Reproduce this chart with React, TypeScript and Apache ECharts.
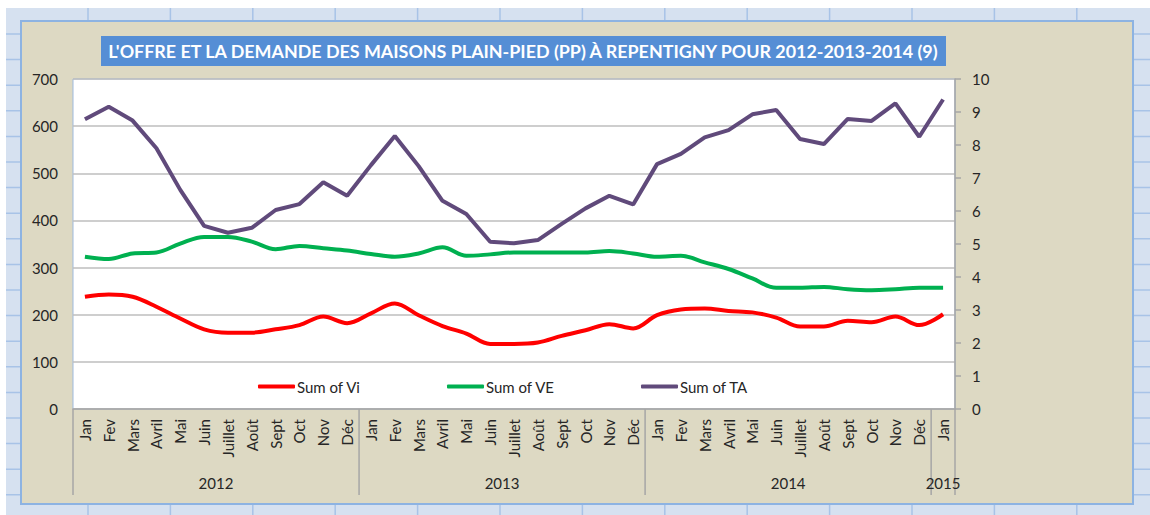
import React, { useEffect, useRef } from 'react';
import * as echarts from 'echarts';

const TITLE = "L'OFFRE ET LA DEMANDE DES MAISONS PLAIN-PIED (PP) À REPENTIGNY POUR 2012-2013-2014 (9)";
const MONTHS = ['Jan', 'Fev', 'Mars', 'Avril', 'Mai', 'Juin', 'Juillet', 'Août', 'Sept', 'Oct', 'Nov', 'Déc'];
const CATEGORIES = [...MONTHS, ...MONTHS, ...MONTHS, 'Jan'];
const YEARS = ['2012', '2013', '2014', '2015'];
const YEAR_SPANS = [12, 12, 12, 1];

const SERIES_NAMES = ['Sum of Vi', 'Sum of VE', 'Sum of TA'];
const VI = [238, 243, 238, 217, 192, 169, 162, 162, 169, 178, 196, 182,
  203, 224, 199, 176, 160, 138, 138, 141, 155, 167, 180, 171,
  199, 211, 213, 208, 205, 194, 175, 175, 187, 184, 196, 178,
  201];
const VE = [323, 318, 330, 332, 351, 365, 365, 355, 339, 346, 341, 336,
  329, 323, 330, 343, 325, 328, 332, 332, 332, 332, 335, 330,
  323, 325, 311, 297, 277, 257, 257, 259, 254, 252, 254, 257,
  257];
const TA = [8.78, 9.16, 8.74, 7.9, 6.64, 5.55, 5.34, 5.49, 6.03, 6.21, 6.87, 6.46,
  7.39, 8.27, 7.36, 6.31, 5.91, 5.07, 5.02, 5.12, 5.61, 6.08, 6.46, 6.2,
  7.42, 7.73, 8.23, 8.45, 8.93, 9.06, 8.18, 8.03, 8.79, 8.73, 9.26, 8.25,
  9.38];

const LEFT_AXIS = { min: 0, max: 700, interval: 100 };
const RIGHT_AXIS = { min: 0, max: 10, interval: 1 };
const COLORS = ['#FF0000', '#00B050', '#604A7B'];

export default function App() {
  const ref = useRef<HTMLDivElement>(null);

  useEffect(() => {
    const el = ref.current as HTMLDivElement;
    const chart = echarts.init(el, null, { renderer: 'svg' });
    const W = 1150, H = 515;
    const FONT = 'Lato';
    const TEXT = '#262626';

    const legendCommon = {
      icon: 'roundRect',
      itemWidth: 37,
      itemHeight: 4,
      top: 379,
      padding: 0,
      textStyle: { fontFamily: FONT, fontSize: 15, color: TEXT, padding: [0, 0, 0, -3] },
    };

    chart.setOption({
      animation: false,
      backgroundColor: '#ffffff',
      grid: {
        left: 73, right: 195, top: 79, bottom: 106,
        show: true, backgroundColor: '#ffffff', borderColor: '#9DB9DE', borderWidth: 1,
      },
      legend: [
        { ...legendCommon, left: 258, data: [SERIES_NAMES[0]] },
        { ...legendCommon, left: 447, data: [SERIES_NAMES[1]] },
        { ...legendCommon, left: 641, data: [SERIES_NAMES[2]] },
      ],
      xAxis: {
        type: 'category',
        data: CATEGORIES,
        boundaryGap: true,
        axisLine: { show: true, lineStyle: { color: '#A6A6A6', width: 1.5 } },
        axisTick: { show: false },
        axisLabel: { rotate: 90, interval: 0, margin: 10, fontFamily: FONT, fontSize: 15, color: TEXT },
      },
      yAxis: [
        {
          type: 'value', ...LEFT_AXIS,
          axisLine: { show: false }, axisTick: { show: false },
          axisLabel: { margin: 15, fontFamily: FONT, fontSize: 15, color: TEXT },
          splitLine: { show: true, lineStyle: { color: '#BEBEBE', width: 1.5 } },
        },
        {
          type: 'value', ...RIGHT_AXIS, position: 'right',
          axisLine: { show: true, lineStyle: { color: '#A6A6A6', width: 1.5 } },
          axisTick: { show: true, length: 6, lineStyle: { color: '#A6A6A6', width: 1.5 } },
          axisLabel: { margin: 17, fontFamily: FONT, fontSize: 15, color: TEXT },
          splitLine: { show: false },
        },
      ],
      series: [
        { name: SERIES_NAMES[0], type: 'line', data: VI, yAxisIndex: 0, smooth: 0.35, symbol: 'none',
          lineStyle: { color: COLORS[0], width: 4 }, itemStyle: { color: COLORS[0] } },
        { name: SERIES_NAMES[1], type: 'line', data: VE, yAxisIndex: 0, smooth: 0.35, symbol: 'none',
          lineStyle: { color: COLORS[1], width: 4 }, itemStyle: { color: COLORS[1] } },
        { name: SERIES_NAMES[2], type: 'line', data: TA, yAxisIndex: 1, smooth: false, symbol: 'none',
          lineStyle: { color: COLORS[2], width: 4 }, itemStyle: { color: COLORS[2] } },
      ],
    });

    // measure title for fitting
    const ctx = document.createElement('canvas').getContext('2d') as CanvasRenderingContext2D;
    const titleFont = `bold 17px ${FONT}`;
    ctx.font = titleFont;
    const tw = ctx.measureText(TITLE).width || 833;
    const sx = Math.min(1.2, 833 / tw);

    const px = (i: number) => chart.convertToPixel({ xAxisIndex: 0 }, i) as unknown as number;
    const y0 = chart.convertToPixel({ yAxisIndex: 0 }, 0) as unknown as number;
    const bw = px(1) - px(0);
    const g: any[] = [];

    // spreadsheet backdrop
    g.push({ type: 'rect', shape: { x: 6, y: 8, width: W - 6, height: H - 8 }, style: { fill: '#D6E1F0' }, z: -20, silent: true });
    for (let x = 88; x < W; x += 82.4) {
      g.push({ type: 'line', shape: { x1: x, y1: 8, x2: x, y2: H }, style: { stroke: '#A8C3E7', lineWidth: 1.5 }, z: -19, silent: true });
    }
    for (let y = 34; y < H; y += 25.6) {
      g.push({ type: 'line', shape: { x1: 6, y1: y, x2: W, y2: y }, style: { stroke: '#A8C3E7', lineWidth: 1.5 }, z: -19, silent: true });
    }
    // chart frame
    g.push({ type: 'rect', shape: { x: 21, y: 21, width: 1112, height: 483 }, style: { fill: '#DDD9C3', stroke: '#8DB3E2', lineWidth: 2 }, z: -18, silent: true });
    // title
    g.push({ type: 'rect', shape: { x: 101, y: 36, width: 845, height: 30 }, style: { fill: '#558ED5' }, z: 5, silent: true });
    g.push({ type: 'text', x: 523, y: 51.5, scaleX: sx, style: { text: TITLE, fill: '#ffffff', font: titleFont, textAlign: 'center', textVerticalAlign: 'middle' }, z: 6, silent: true });

    // year separators and labels
    let idx = 0;
    const start = px(0) - bw / 2;
    g.push({ type: 'line', shape: { x1: start, y1: y0, x2: start, y2: 495 }, style: { stroke: '#A6A6A6', lineWidth: 1.5 }, z: 6, silent: true });
    YEARS.forEach((yr, k) => {
      const span = YEAR_SPANS[k];
      const a = px(idx) - bw / 2;
      const b = px(idx + span - 1) + bw / 2;
      g.push({ type: 'line', shape: { x1: b, y1: y0, x2: b, y2: 495 }, style: { stroke: '#A6A6A6', lineWidth: 1.5 }, z: 6, silent: true });
      g.push({ type: 'text', x: (a + b) / 2, y: 483, style: { text: yr, fill: TEXT, font: `15px ${FONT}`, textAlign: 'center', textVerticalAlign: 'middle' }, z: 6, silent: true });
      idx += span;
    });

    chart.setOption({ graphic: { elements: g } });

    return () => chart.dispose();
  }, []);

  return <div ref={ref} style={{ position: 'absolute', left: 0, top: 0, width: 1150, height: 515 }} />;
}
